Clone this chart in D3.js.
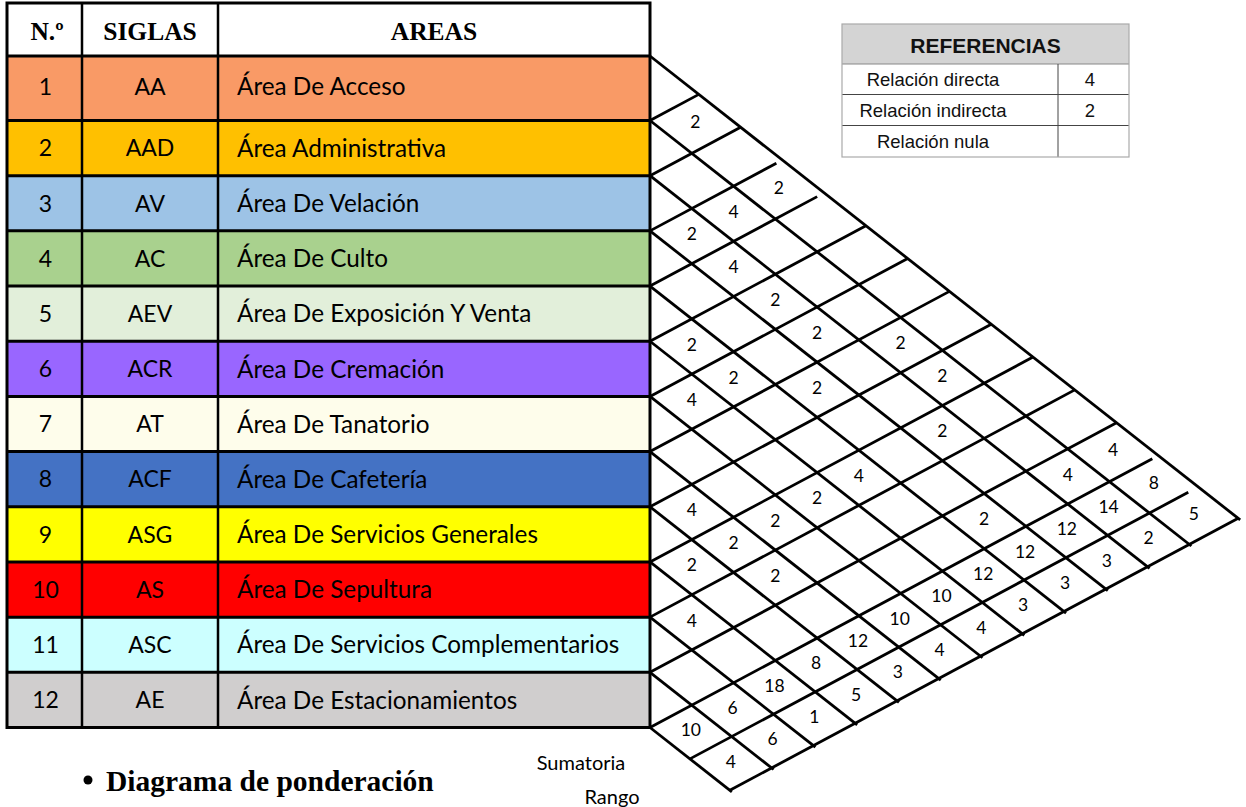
<!DOCTYPE html>
<html><head><meta charset="utf-8">
<script src="https://cdn.jsdelivr.net/npm/d3@7"></script>
<style>
body{margin:0;background:#fff}
svg{display:block}
</style>
</head><body>
<svg id="chart" width="1246" height="807"></svg>
<script>
// ---------------- DATA ----------------
const headers = ["N.º", "SIGLAS", "AREAS"];
const numbers = [1, 2, 3, 4, 5, 6, 7, 8, 9, 10, 11, 12];
const siglas = ["AA", "AAD", "AV", "AC", "AEV", "ACR", "AT", "ACF", "ASG", "AS", "ASC", "AE"];
const areas = [
  "Área De Acceso", "Área Administrativa", "Área De Velación", "Área De Culto",
  "Área De Exposición Y Venta", "Área De Cremación", "Área De Tanatorio", "Área De Cafetería",
  "Área De Servicios Generales", "Área De Sepultura", "Área De Servicios Complementarios",
  "Área De Estacionamientos"
];
const rowColors = ["#F99A66", "#FFC000", "#9DC3E6", "#A9D18E", "#E2EFDA", "#9966FF",
                   "#FEFDEB", "#4472C4", "#FFFF00", "#FF0000", "#CCFFFF", "#D0CECE"];
// pair relations [area A, area B, weight]
const relations = [
  [1, 2, 2], [1, 4, 2], [1, 12, 4],
  [2, 4, 4], [2, 8, 2], [2, 9, 2], [2, 12, 4],
  [3, 4, 2], [3, 5, 4], [3, 6, 2], [3, 7, 2], [3, 10, 2],
  [4, 8, 2], [4, 12, 2],
  [5, 6, 2], [5, 7, 2], [5, 10, 4],
  [6, 7, 4], [6, 10, 2],
  [7, 10, 2],
  [8, 9, 4], [8, 10, 2], [8, 11, 2],
  [9, 10, 2],
  [10, 11, 4]
];
const sumatoria = [8, 14, 12, 12, 12, 10, 10, 12, 8, 18, 6, 10];
const rango = [5, 2, 3, 3, 3, 4, 4, 3, 5, 1, 6, 4];
const extraLabels = ["Sumatoria", "Rango"];
const refTitle = "REFERENCIAS";
const refLabels = ["Relación directa", "Relación indirecta", "Relación nula"];
const refValues = ["4", "2", ""];
const title = "Diagrama de ponderación";

// ---------------- LAYOUT ----------------
const svg = d3.select("#chart");
const nRows = areas.length;             // 12
const nBands = nRows + 2;               // + Sumatoria + Rango
// boundary index -> pixel y
const yb = d3.scaleLinear().domain([0, 1, nRows, nBands]).range([56, 120.5, 727.5, 833]);
const mid = k => (yb(k - 1) + yb(k)) / 2;     // centre of band k (1-based)
const colX = d3.scaleOrdinal().domain([0, 1, 2, 3]).range([7, 82, 218, 650]);
const tableTop = 3;
const x0 = colX(3);
const sDown = 0.786, sUp = 0.535;
// intersection of down-right line starting at left-edge y=a and up-right line starting at y=b
function pt(a, b) {
  const t = (b - a) / (sDown + sUp);
  return [x0 + t, a + sDown * t];
}

// ---------------- TABLE ----------------
const gT = svg.append("g");
gT.append("rect").attr("x", colX(0)).attr("y", tableTop)
  .attr("width", colX(3) - colX(0)).attr("height", yb(0) - tableTop).attr("fill", "#fff");
gT.selectAll("rect.row").data(areas).join("rect").attr("class", "row")
  .attr("x", colX(0)).attr("y", (d, i) => yb(i))
  .attr("width", colX(3) - colX(0)).attr("height", (d, i) => yb(i + 1) - yb(i))
  .attr("fill", (d, i) => rowColors[i]);

// header text
const hCenters = [47, (colX(1) + colX(2)) / 2, (colX(2) + colX(3)) / 2];
gT.selectAll("text.h").data(headers).join("text").attr("class", "h")
  .attr("x", (d, i) => hCenters[i]).attr("y", 40)
  .attr("text-anchor", "middle")
  .attr("font-family", "'Liberation Serif', 'Times New Roman', serif")
  .attr("font-weight", "bold").attr("font-size", 25.5).text(d => d);

const rowFont = "Lato, 'Open Sans', sans-serif";
const rowY = i => (yb(i) + yb(i + 1)) / 2 + (i === 0 ? -2 : 0);
gT.selectAll("text.n").data(numbers).join("text").attr("class", "n")
  .attr("x", (colX(0) + colX(1)) / 2 + 1).attr("y", (d, i) => rowY(i))
  .attr("dy", "0.36em").attr("text-anchor", "middle")
  .attr("font-family", rowFont).attr("font-size", 23).text(d => d);
gT.selectAll("text.s").data(siglas).join("text").attr("class", "s")
  .attr("x", (colX(1) + colX(2)) / 2).attr("y", (d, i) => rowY(i))
  .attr("dy", "0.36em").attr("text-anchor", "middle")
  .attr("font-family", rowFont).attr("font-size", 23).text(d => d);
gT.selectAll("text.a").data(areas).join("text").attr("class", "a")
  .attr("x", colX(2) + 19).attr("y", (d, i) => rowY(i))
  .attr("dy", "0.36em")
  .attr("font-family", rowFont).attr("font-size", 24.3).text(d => d);

// table lines
d3.range(0, nRows + 1).forEach(k => {
  gT.append("line").attr("x1", colX(0)).attr("x2", colX(3))
    .attr("y1", yb(k)).attr("y2", yb(k)).attr("stroke", "#000").attr("stroke-width", 3);
});
[1, 2].forEach(c => {
  gT.append("line").attr("x1", colX(c)).attr("x2", colX(c))
    .attr("y1", tableTop).attr("y2", yb(nRows)).attr("stroke", "#000").attr("stroke-width", 2.5);
});
gT.append("rect").attr("x", colX(0)).attr("y", tableTop)
  .attr("width", colX(3) - colX(0)).attr("height", yb(nRows) - tableTop)
  .attr("fill", "none").attr("stroke", "#000").attr("stroke-width", 3);

// ---------------- GRID ----------------
const gG = svg.append("g").attr("stroke", "#000").attr("stroke-width", 2.8).attr("stroke-linecap", "butt");
const upTrim = {3: 6, 4: 7, 12: 6, 13: 10};
// down-right lines
d3.range(0, nRows + 1).forEach(k => {
  const a = yb(k);
  const p1 = [x0, a], p2 = pt(a, yb(nBands));
  gG.append("line").attr("x1", p1[0]).attr("y1", p1[1]).attr("x2", p2[0] + 2).attr("y2", p2[1] + 2 * sDown);
});
// up-right lines
d3.range(1, nBands + 1).forEach(k => {
  const b = yb(k);
  const p1 = k <= nRows ? [x0, b] : pt(yb(nRows), b);
  let p2 = pt(yb(0), b);
  const tr = upTrim[k] || 0;
  p2 = [p2[0] - tr, p2[1] + sUp * tr];
  gG.append("line").attr("x1", p1[0]).attr("y1", p1[1]).attr("x2", p2[0]).attr("y2", p2[1]);
});

// cell labels
const cells = relations.map(r => ({i: r[0], j: r[1], v: r[2]}))
  .concat(sumatoria.map((v, i) => ({i: i + 1, j: nRows + 1, v})))
  .concat(rango.map((v, i) => ({i: i + 1, j: nRows + 2, v})));
svg.append("g").selectAll("text").data(cells).join("text")
  .attr("x", d => pt(mid(d.i), mid(d.j))[0])
  .attr("y", d => pt(mid(d.i), mid(d.j))[1] - 2)
  .attr("dy", "0.36em").attr("text-anchor", "middle")
  .attr("font-family", rowFont).attr("font-size", 17.5).attr("fill", "#000")
  .text(d => d.v);

// Sumatoria / Rango labels
svg.append("text").attr("x", 581).attr("y", 763).attr("dy", "0.36em").attr("text-anchor", "middle")
  .attr("font-family", rowFont).attr("font-size", 20).text(extraLabels[0]);
svg.append("text").attr("x", 612).attr("y", 797).attr("dy", "0.36em").attr("text-anchor", "middle")
  .attr("font-family", rowFont).attr("font-size", 20).text(extraLabels[1]);

// ---------------- TITLE ----------------
svg.append("circle").attr("cx", 88).attr("cy", 780).attr("r", 4.5).attr("fill", "#000");
svg.append("text").attr("x", 106).attr("y", 791)
  .attr("font-family", "'Liberation Serif', 'Times New Roman', serif")
  .attr("font-weight", "bold").attr("font-size", 29.5).text(title);

// ---------------- REFERENCES ----------------
const rx = [842, 1058, 1129];
const ry = [24, 64, 94.5, 125.5, 157];
const gR = svg.append("g");
gR.append("rect").attr("x", rx[0]).attr("y", ry[0]).attr("width", rx[2] - rx[0]).attr("height", ry[1] - ry[0])
  .attr("fill", "#D4D4D4");
gR.append("text").attr("x", (rx[0] + rx[2]) / 2).attr("y", (ry[0] + ry[1]) / 2 + 1).attr("dy", "0.36em")
  .attr("text-anchor", "middle").attr("font-family", "'Liberation Sans', Arial, sans-serif")
  .attr("font-weight", "bold").attr("font-size", 21).attr("fill", "#111").text(refTitle);
refLabels.forEach((t, i) => {
  const yc = (ry[i + 1] + ry[i + 2]) / 2;
  gR.append("text").attr("x", 933).attr("y", yc).attr("dy", "0.36em").attr("text-anchor", "middle")
    .attr("font-family", "'Liberation Sans', Arial, sans-serif").attr("font-size", 18.5).attr("fill", "#111").text(t);
  gR.append("text").attr("x", 1090).attr("y", yc).attr("dy", "0.36em").attr("text-anchor", "middle")
    .attr("font-family", "'Liberation Sans', Arial, sans-serif").attr("font-size", 18.5).attr("fill", "#111").text(refValues[i]);
});
[1, 2, 3].forEach(k => {
  gR.append("line").attr("x1", rx[0]).attr("x2", rx[2]).attr("y1", ry[k]).attr("y2", ry[k])
    .attr("stroke", k === 1 ? "#888" : "#444").attr("stroke-width", 1);
});
gR.append("line").attr("x1", rx[1]).attr("x2", rx[1]).attr("y1", ry[1]).attr("y2", ry[4])
  .attr("stroke", "#444").attr("stroke-width", 1);
gR.append("rect").attr("x", rx[0]).attr("y", ry[0]).attr("width", rx[2] - rx[0]).attr("height", ry[4] - ry[0])
  .attr("fill", "none").attr("stroke", "#aaa").attr("stroke-width", 1.2);
</script>
</body></html>
